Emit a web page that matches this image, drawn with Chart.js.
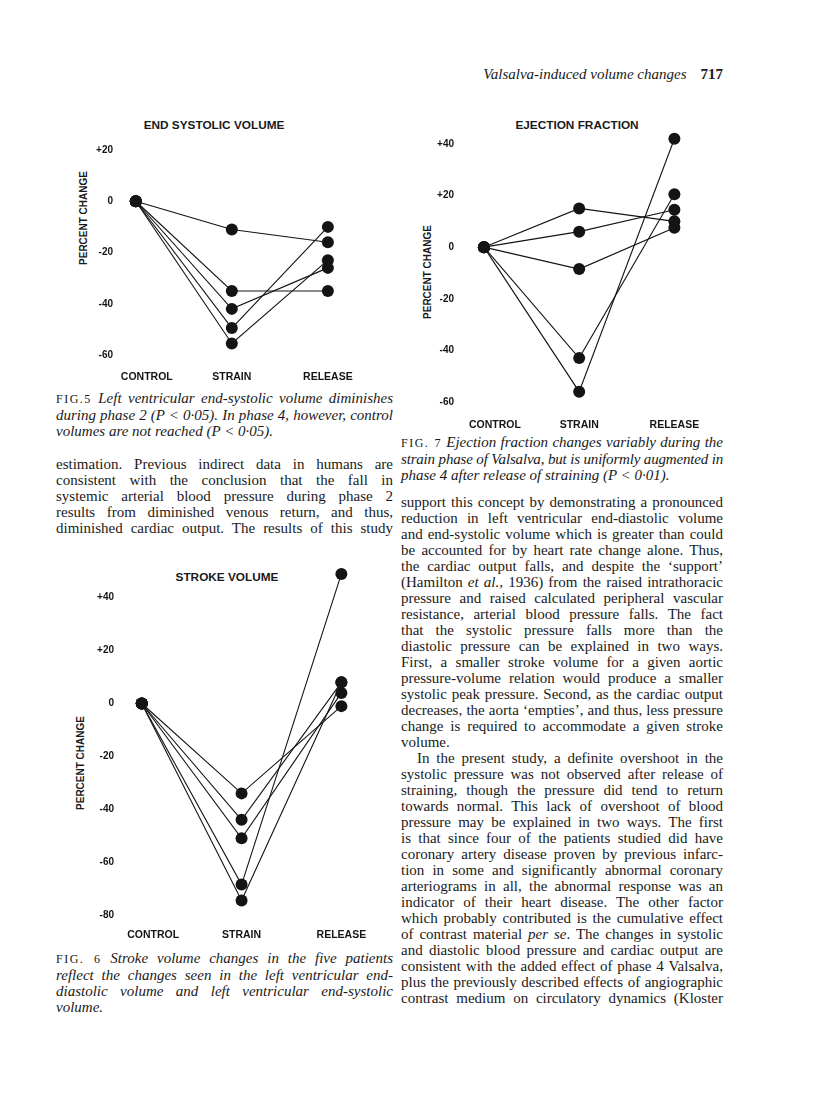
<!DOCTYPE html>
<html>
<head>
<meta charset="utf-8">
<script src="https://cdn.jsdelivr.net/npm/chart.js"></script>
<style>
  body { margin: 0; background: #fff; }
  #page { position: relative; width: 816px; height: 1109px; overflow: hidden; color: #1a1a1a; font-family: "Liberation Serif", "DejaVu Serif", serif; }
  canvas { position: absolute; }
  .title { position: absolute; transform: translate(-50%, -50%); font: bold 11.8px "Liberation Sans", Arial, sans-serif; white-space: nowrap; }
  .ylab { position: absolute; transform: translate(-50%, -50%) rotate(-90deg); font: bold 10px "Liberation Sans", Arial, sans-serif; white-space: nowrap; }
  .col { position: absolute; font-size: 15px; line-height: 16px; }
  .col div { white-space: nowrap; text-align: justify; text-align-last: justify; }
  .col div.end { text-align-last: left; }
  .cap { font-style: italic; }
  .fig { font-style: normal; font-size: 12px; letter-spacing: 1.5px; }
  #head { position: absolute; top: 65px; right: 93px; font-size: 15px; line-height: 18px; font-style: italic; white-space: nowrap; }
  #head b { font-style: normal; margin-left: 14px; }
</style>
</head>
<body>
<div id="page">
  <div id="head">Valsalva-induced volume changes<b>717</b></div>

  <div class="title" style="left:214px; top:125px">END SYSTOLIC VOLUME</div>
  <div class="ylab" style="left:83px; top:218px">PERCENT CHANGE</div>
  <canvas id="esvChart" width="281" height="246" style="left:88px; top:139px"></canvas>

  <div class="title" style="left:577px; top:125px">EJECTION FRACTION</div>
  <div class="ylab" style="left:427px; top:272px">PERCENT CHANGE</div>
  <canvas id="efChart" width="288" height="312" style="left:429px; top:120px"></canvas>

  <div class="title" style="left:227px; top:577px">STROKE VOLUME</div>
  <div class="ylab" style="left:80px; top:763px">PERCENT CHANGE</div>
  <canvas id="svChart" width="293" height="389" style="left:88px; top:556px"></canvas>

  <div class="col cap" style="left:56px; top:390px; width:337px">
    <div><span class="fig">FIG.5</span> Left ventricular end-systolic volume diminishes</div>
    <div>during phase 2 (<i>P</i> &lt; 0·05). In phase 4, however, control</div>
    <div class="end">volumes are not reached (<i>P</i> &lt; 0·05).</div>
  </div>

  <div class="col" style="left:56px; top:456px; width:337px">
    <div>estimation. Previous indirect data in humans are</div>
    <div>consistent with the conclusion that the fall in</div>
    <div>systemic arterial blood pressure during phase 2</div>
    <div>results from diminished venous return, and thus,</div>
    <div>diminished cardiac output. The results of this study</div>
  </div>

  <div class="col cap" style="left:56px; top:950px; width:337px">
    <div><span class="fig">FIG. 6</span> Stroke volume changes in the five patients</div>
    <div>reflect the changes seen in the left ventricular end-</div>
    <div>diastolic volume and left ventricular end-systolic</div>
    <div class="end">volume.</div>
  </div>

  <div class="col cap" style="left:401px; top:434px; width:322px">
    <div><span class="fig">FIG. 7</span> Ejection fraction changes variably during the</div>
    <div>strain phase of Valsalva, but is uniformly augmented in</div>
    <div class="end">phase 4 after release of straining (<i>P</i> &lt; 0·01).</div>
  </div>

  <div class="col" style="left:401px; top:494px; width:322px">
    <div>support this concept by demonstrating a pronounced</div>
    <div>reduction in left ventricular end-diastolic volume</div>
    <div>and end-systolic volume which is greater than could</div>
    <div>be accounted for by heart rate change alone. Thus,</div>
    <div>the cardiac output falls, and despite the ‘support’</div>
    <div>(Hamilton <i>et al.</i>, 1936) from the raised intrathoracic</div>
    <div>pressure and raised calculated peripheral vascular</div>
    <div>resistance, arterial blood pressure falls. The fact</div>
    <div>that the systolic pressure falls more than the</div>
    <div>diastolic pressure can be explained in two ways.</div>
    <div>First, a smaller stroke volume for a given aortic</div>
    <div>pressure-volume relation would produce a smaller</div>
    <div>systolic peak pressure. Second, as the cardiac output</div>
    <div>decreases, the aorta ‘empties’, and thus, less pressure</div>
    <div>change is required to accommodate a given stroke</div>
    <div class="end">volume.</div>
    <div style="text-indent:16px">In the present study, a definite overshoot in the</div>
    <div>systolic pressure was not observed after release of</div>
    <div>straining, though the pressure did tend to return</div>
    <div>towards normal. This lack of overshoot of blood</div>
    <div>pressure may be explained in two ways. The first</div>
    <div>is that since four of the patients studied did have</div>
    <div>coronary artery disease proven by previous infarc-</div>
    <div>tion in some and significantly abnormal coronary</div>
    <div>arteriograms in all, the abnormal response was an</div>
    <div>indicator of their heart disease. The other factor</div>
    <div>which probably contributed is the cumulative effect</div>
    <div>of contrast material <i>per se</i>. The changes in systolic</div>
    <div>and diastolic blood pressure and cardiac output are</div>
    <div>consistent with the added effect of phase 4 Valsalva,</div>
    <div>plus the previously described effects of angiographic</div>
    <div>contrast medium on circulatory dynamics (Kloster</div>
  </div>
</div>

<script>
const phases = ["CONTROL", "STRAIN", "RELEASE"]

// percent change for each of the five patients: control, strain, release
const esvTicks = [20, 0, -20, -40, -60]
const esvPatients = [
  [0, -11, -16],
  [0, -35, -35],
  [0, -42, -26],
  [0, -49.5, -10],
  [0, -55.5, -23],
]

const efTicks = [40, 20, 0, -20, -40, -60]
const efPatients = [
  [0, 15, 10],
  [0, 6, 14.5],
  [0, -8.5, 7.5],
  [0, -43, 20.5],
  [0, -56, 42],
]

const svTicks = [40, 20, 0, -20, -40, -60, -80]
const svPatients = [
  [0, -34, -1],
  [0, -44, 8],
  [0, -51, 4],
  [0, -68.5, 49],
  [0, -74.5, 8],
]

const ink = "#141414"
const sansFont = "'Liberation Sans', Arial, sans-serif"

const makeChart = (id, patients, yTicks, yRange, xRange, tickPad, labelPad) => {
  new Chart(document.getElementById(id), {
    type: "line",
    data: {
      datasets: patients.map(values => ({
        data: values.map((v, i) => ({ x: i, y: v })),
        borderColor: ink,
        borderWidth: 1.1,
        pointRadius: 6,
        pointHoverRadius: 6,
        pointBackgroundColor: ink,
        pointBorderWidth: 0,
        tension: 0,
        clip: false,
      }))
    },
    options: {
      responsive: false,
      animation: false,
      events: [],
      layout: { padding: { top: 10, right: 10, left: 0, bottom: 0 } },
      plugins: {
        legend: { display: false },
        tooltip: { enabled: false },
      },
      scales: {
        x: {
          type: "linear",
          min: xRange[0],
          max: xRange[1],
          grid: { display: false, drawTicks: false },
          border: { display: false },
          afterBuildTicks: axis => { axis.ticks = phases.map((p, i) => ({ value: i === 0 ? 0.115 : i })) },
          afterFit: axis => { axis.height = 30 },
          ticks: {
            autoSkip: false,
            maxRotation: 0,
            padding: labelPad,
            color: ink,
            font: { family: sansFont, size: 10.5, weight: "bold" },
            callback: (value, index) => phases[index],
          }
        },
        y: {
          min: yRange[0],
          max: yRange[1],
          grid: { display: false, drawTicks: false },
          border: { display: false },
          afterBuildTicks: axis => { axis.ticks = yTicks.map(v => ({ value: v })) },
          afterFit: axis => { axis.width = 30 },
          ticks: {
            padding: tickPad,
            color: ink,
            font: { family: sansFont, size: 10, weight: "bold" },
            callback: value => value > 0 ? "+" + value : String(value),
          }
        }
      }
    }
  })
}

// End Systolic Volume
makeChart("esvChart", esvPatients, esvTicks, [-60, 20], [-0.185, 2.2], 5, 15.5)

// Ejection Fraction
makeChart("efChart", efPatients, efTicks, [-60, 45], [-0.262, 2.2], 5, 17)

// Stroke Volume
makeChart("svChart", svPatients, svTicks, [-80, 52], [-0.238, 2.2], 4, 14)

// squeeze any printed line that is wider than its column
document.querySelectorAll(".col div").forEach(line => {
  const over = line.scrollWidth - line.clientWidth
  if (over > 0)
    line.style.letterSpacing = (-(over + 1) / line.textContent.length).toFixed(3) + "px"
})
</script>
</body>
</html>
